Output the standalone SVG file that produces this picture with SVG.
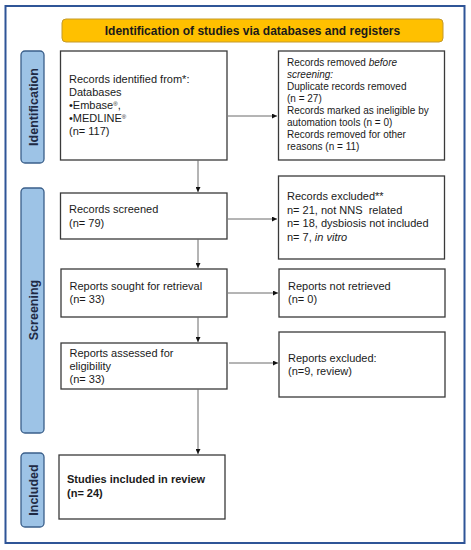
<svg xmlns="http://www.w3.org/2000/svg" width="471" height="550" viewBox="0 0 471 550">
<defs>
<style>
.box{fill:#fff;stroke:#3a3a3a;stroke-width:1.3}
.side{fill:#9dc3e6;stroke:#3a5f8a;stroke-width:1.3}
.t{font-family:"Liberation Sans",Arial,sans-serif;font-size:11px;fill:#1a1a1a}
.s{font-size:10px}
.b{font-weight:bold}
.lbl{font-family:"Liberation Sans",Arial,sans-serif;font-size:12.5px;font-weight:bold;fill:#1f2a44}
.conn{stroke:#6b6b6b;stroke-width:1;fill:none}
</style>
<marker id="ah" viewBox="0 0 10 10" refX="10" refY="5" markerWidth="5" markerHeight="5" orient="auto" markerUnits="userSpaceOnUse">
<path d="M0,0 L10,5 L0,10 z" fill="#111"/>
</marker>
</defs>
<rect width="471" height="550" fill="#fff"/>
<rect x="5.5" y="6" width="459" height="537" fill="#fff" stroke="#2f5597" stroke-width="2"/>

<g id="header">
<rect x="62" y="19" width="381" height="23" rx="4" fill="#ffc000" stroke="#c49a2a" stroke-width="1"/>
<text class="t b" x="252.5" y="34.5" text-anchor="middle" style="font-size:12px">Identification of studies via databases and registers</text>
</g>

<g id="side-identification">
<rect class="side" x="21" y="51" width="23" height="112" rx="4"/>
<text class="lbl" transform="translate(37.5,107) rotate(-90)" text-anchor="middle">Identification</text>
</g>
<g id="side-screening">
<rect class="side" x="21" y="188" width="23" height="245" rx="4"/>
<text class="lbl" transform="translate(37.5,310) rotate(-90)" text-anchor="middle">Screening</text>
</g>
<g id="side-included">
<rect class="side" x="21" y="453" width="23" height="74" rx="4"/>
<text class="lbl" transform="translate(37.5,490) rotate(-90)" text-anchor="middle">Included</text>
</g>

<g id="records-identified">
<rect class="box" x="60.5" y="51" width="166.5" height="109"/>
<text class="t" x="69" y="83">Records identified from*:</text>
<text class="t" x="69" y="96">Databases</text>
<text class="t" x="69" y="109">•Embase<tspan style="font-size:6px" dy="-3">®</tspan><tspan dy="3">,</tspan></text>
<text class="t" x="69" y="122">•MEDLINE<tspan style="font-size:6px" dy="-3">®</tspan></text>
<text class="t" x="69" y="135">(n= 117)</text>
</g>

<g id="records-removed">
<rect class="box" x="278.5" y="51" width="166" height="109"/>
<text class="t s" x="287" y="66">Records removed <tspan font-style="italic">before</tspan></text>
<text class="t s" x="287" y="78" font-style="italic">screening:</text>
<text class="t s" x="287" y="90">Duplicate records removed</text>
<text class="t s" x="287" y="102">(n = 27)</text>
<text class="t s" x="287" y="114">Records marked as ineligible by</text>
<text class="t s" x="287" y="126">automation tools (n = 0)</text>
<text class="t s" x="287" y="138">Records removed for other</text>
<text class="t s" x="287" y="150">reasons (n = 11)</text>
</g>

<g id="records-screened">
<rect class="box" x="60.5" y="193" width="166.5" height="46"/>
<text class="t" x="69" y="213">Records screened</text>
<text class="t" x="69" y="227">(n= 79)</text>
</g>

<g id="records-excluded">
<rect class="box" x="278.5" y="176" width="166" height="83"/>
<text class="t" x="287" y="200">Records excluded**</text>
<text class="t" x="287" y="214" xml:space="preserve">n= 21, not NNS  related</text>
<text class="t" x="287" y="227">n= 18, dysbiosis not included</text>
<text class="t" x="287" y="241">n= 7, <tspan font-style="italic">in vitro</tspan></text>
</g>

<g id="reports-sought">
<rect class="box" x="61" y="269" width="166" height="48"/>
<text class="t" x="69.5" y="290">Reports sought for retrieval</text>
<text class="t" x="69.5" y="303">(n= 33)</text>
</g>

<g id="reports-not-retrieved">
<rect class="box" x="279" y="269" width="166" height="48"/>
<text class="t" x="288" y="290">Reports not retrieved</text>
<text class="t" x="288" y="303">(n= 0)</text>
</g>

<g id="reports-assessed">
<rect class="box" x="61" y="343" width="166" height="46"/>
<text class="t" x="69.5" y="357">Reports assessed for</text>
<text class="t" x="69.5" y="370">eligibility</text>
<text class="t" x="69.5" y="383">(n= 33)</text>
</g>

<g id="reports-excluded">
<rect class="box" x="279" y="332" width="166" height="65"/>
<text class="t" x="288" y="362">Reports excluded:</text>
<text class="t" x="288" y="375">(n=9, review)</text>
</g>

<g id="studies-included">
<rect class="box" x="59" y="455" width="166" height="64"/>
<text class="t b" x="67" y="483">Studies included in review</text>
<text class="t b" x="67" y="497">(n= 24)</text>
</g>

<g id="connectors">
<line class="conn" x1="228" y1="116" x2="277" y2="116" marker-end="url(#ah)"/>
<line class="conn" x1="198" y1="160" x2="198" y2="192" marker-end="url(#ah)"/>
<line class="conn" x1="228" y1="219" x2="277" y2="219" marker-end="url(#ah)"/>
<line class="conn" x1="198" y1="239" x2="198" y2="268" marker-end="url(#ah)"/>
<line class="conn" x1="228" y1="293" x2="278" y2="293" marker-end="url(#ah)"/>
<line class="conn" x1="198" y1="317" x2="198" y2="342" marker-end="url(#ah)"/>
<line class="conn" x1="229" y1="363" x2="278" y2="363" marker-end="url(#ah)"/>
<line class="conn" x1="198" y1="389" x2="198" y2="454" marker-end="url(#ah)"/>
</g>
</svg>
